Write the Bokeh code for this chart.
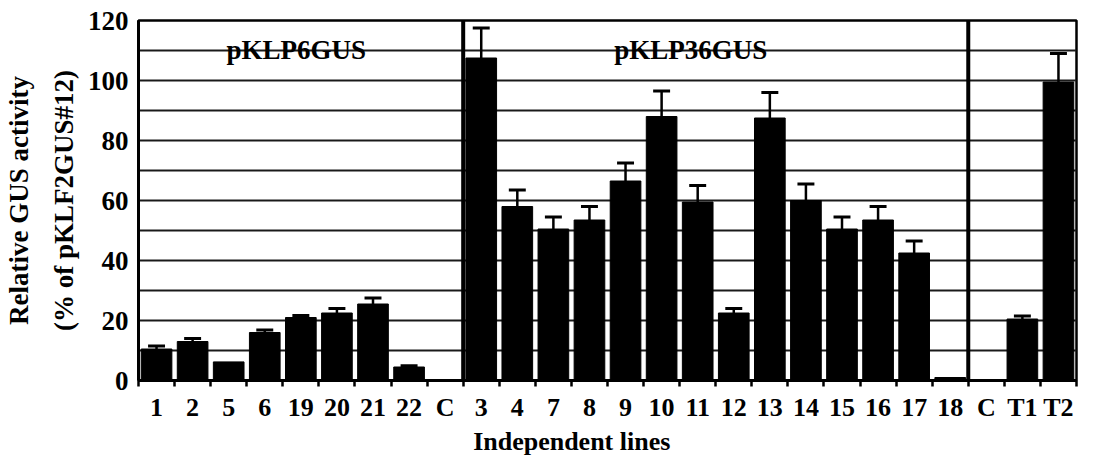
from bokeh.plotting import figure
from bokeh.models import Range1d, FixedTicker, LinearAxis, Span, Label, ColumnDataSource
from bokeh.embed import file_html
from bokeh.resources import INLINE

# ---- data ----
labels = ["1", "2", "5", "6", "19", "20", "21", "22", "C",
          "3", "4", "7", "8", "9", "10", "11", "12", "13", "14", "15", "16", "17", "18",
          "C", "T1", "T2"]
values = [10.5, 13.0, 6.2, 16.0, 21.0, 22.5, 25.5, 4.5, 0.0,
          107.5, 58.0, 50.5, 53.5, 66.5, 88.0, 59.5, 22.5, 87.5, 60.0, 50.5, 53.5, 42.5, 1.0,
          0.3, 20.5, 99.5]
errors = [1.0, 1.0, 0.0, 0.8, 0.7, 1.5, 2.0, 0.4, 0.0,
          10.0, 5.5, 4.0, 4.5, 6.0, 8.5, 5.5, 1.5, 8.5, 5.5, 4.0, 4.5, 4.0, 0.0,
          0.0, 1.0, 9.5]
group_names = ["pKLP6GUS", "pKLP36GUS"]
group_breaks = [9, 23]
y_ticks = [0, 20, 40, 60, 80, 100, 120]

FONT = "Liberation Serif"
FS = "27px"
FSX = "26px"

xs = list(range(len(labels)))
src = ColumnDataSource(dict(x=xs, top=values))
ex = [i for i, e in zip(xs, errors) if e > 0]
e_lo = [v for v, e in zip(values, errors) if e > 0]
e_hi = [v + e for v, e in zip(values, errors) if e > 0]
err_src = ColumnDataSource(dict(x=ex, y0=e_lo, y1=e_hi))

p = figure(width=1078, height=458, output_backend="svg", toolbar_location=None,
           x_range=Range1d(-0.5, len(labels) - 0.5), y_range=Range1d(0, 120),
           min_border_left=130, min_border_right=2, min_border_top=20, min_border_bottom=69)
p.background_fill_color = "white"
p.border_fill_color = "white"
p.outline_line_color = "black"
p.outline_line_width = 2.5

# grid
p.xgrid.visible = False
p.ygrid.ticker = FixedTicker(ticks=list(range(10, 120, 10)))
p.ygrid.grid_line_color = "#1a1a1a"
p.ygrid.grid_line_width = 2

# bars and error bars
p.vbar(x="x", top="top", width=0.85, bottom=0, source=src, fill_color="black", line_color="black")
p.segment(x0="x", y0="y0", x1="x", y1="y1", source=err_src, line_color="black", line_width=2.5)
p.rect(x="x", y="y1", width=0.47, height=3, height_units="screen", source=err_src,
       fill_color="black", line_color=None)

# group separators
for b in group_breaks:
    p.add_layout(Span(location=b - 0.5, dimension="height", line_color="black", line_width=4))

# group labels
for gx, name in zip([3.87, 14.81], group_names):
    p.add_layout(Label(x=gx, y=110.3, text=name, text_font=FONT, text_font_style="bold",
                       text_font_size=FS, text_color="black", text_align="center",
                       text_baseline="alphabetic"))

# x axis
xa = p.xaxis[0]
xa.ticker = FixedTicker(ticks=xs, minor_ticks=[i + 0.5 for i in range(-1, len(labels))])
xa.major_label_overrides = {i: lab for i, lab in zip(xs, labels)}
xa.major_tick_out = 0
xa.major_tick_in = 0
xa.minor_tick_out = 6
xa.minor_tick_in = 0
xa.minor_tick_line_width = 2.5
xa.axis_line_width = 3
xa.major_label_standoff = 6
xa.major_label_text_font = FONT
xa.major_label_text_font_style = "bold"
xa.major_label_text_font_size = FSX
xa.major_label_text_color = "black"
# trailing no-break spaces shift the centred title left, as in the original
xa.axis_label = "Independent lines" + "\u00a0" * 11
xa.axis_label_standoff = 2
xa.axis_label_text_font = FONT
xa.axis_label_text_font_style = "bold"
xa.axis_label_text_font_size = FSX
xa.axis_label_text_color = "black"

# y axis
ya = p.yaxis[0]
ya.ticker = FixedTicker(ticks=y_ticks)
ya.major_tick_out = 0
ya.major_tick_in = 0
ya.minor_tick_out = 0
ya.minor_tick_in = 0
ya.axis_line_width = 3
ya.major_label_standoff = 10
ya.major_label_text_font = FONT
ya.major_label_text_font_style = "bold"
ya.major_label_text_font_size = FS
ya.major_label_text_color = "black"
ya.axis_label = "(% of pKLF2GUS#12)"
ya.axis_label_standoff = 6
ya.axis_label_text_font = FONT
ya.axis_label_text_font_style = "bold"
ya.axis_label_text_font_size = FS
ya.axis_label_text_color = "black"

ya2 = LinearAxis(ticker=FixedTicker(ticks=[]), axis_label="Relative GUS activity",
                 axis_line_color=None, major_tick_out=0, major_tick_in=0,
                 minor_tick_out=0, minor_tick_in=0, major_label_standoff=0,
                 axis_label_standoff=12, axis_label_text_font=FONT,
                 axis_label_text_font_style="bold", axis_label_text_font_size=FS,
                 axis_label_text_color="black")
p.add_layout(ya2, "left")

open("out.html", "w").write(file_html(p, INLINE))
